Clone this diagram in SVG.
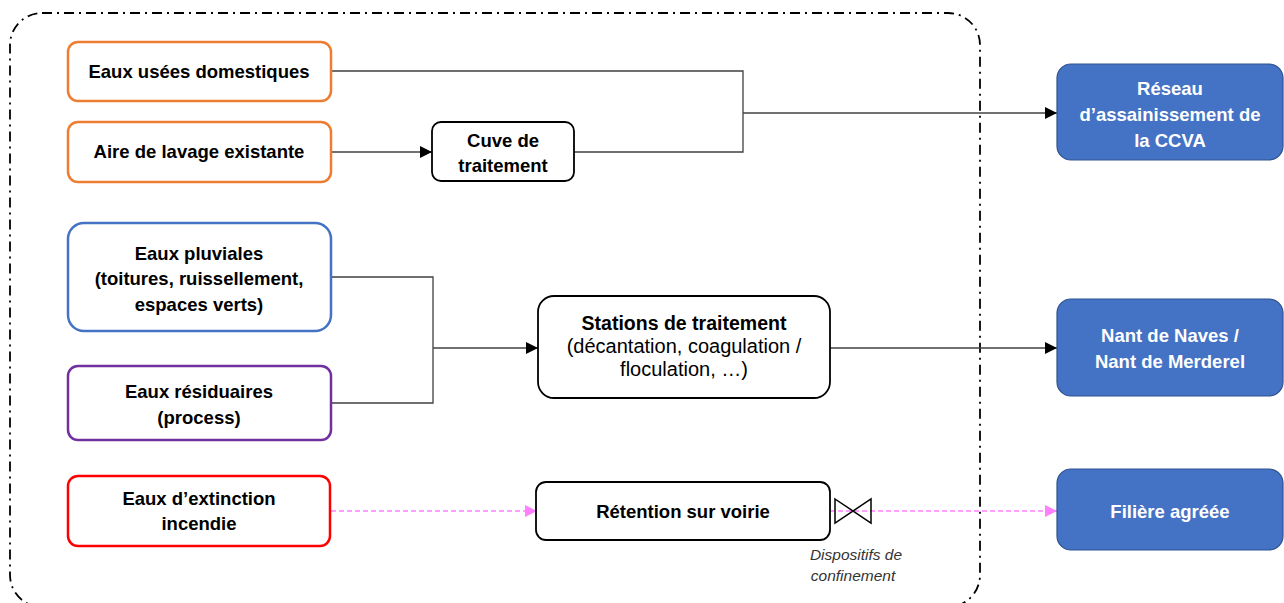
<svg xmlns="http://www.w3.org/2000/svg" width="1284" height="603" viewBox="0 0 1284 603">
  <style>
    .t { font-family: "Liberation Sans", Arial, sans-serif; font-size: 18.5px; font-weight: bold; fill: #000; text-anchor: middle; }
    .r { font-weight: normal; font-size: 20px; }
    .s { font-size: 19.5px; }
    .w { fill: #fff; }
    .it { font-family: "Liberation Sans", Arial, sans-serif; font-size: 15.5px; font-style: italic; fill: #333; text-anchor: middle; }
    .box { fill: #fff; stroke-width: 2.5; }
    .blk { fill: #fff; stroke: #000; stroke-width: 1.8; }
    .out { fill: #4472C4; stroke: #2F528F; stroke-width: 1.2; }
    .ln { fill: none; stroke: #404040; stroke-width: 1.3; }
    .pk { fill: none; stroke: #FF80FF; stroke-width: 1.5; stroke-dasharray: 5 3; }
  </style>
  <defs>
    <marker id="ah" viewBox="0 0 10 10" refX="10" refY="5" markerWidth="13" markerHeight="12" markerUnits="userSpaceOnUse" orient="auto">
      <path d="M0,0 L10,5 L0,10 Z" fill="#000"/>
    </marker>
    <marker id="ahp" viewBox="0 0 10 10" refX="10" refY="5" markerWidth="13" markerHeight="12" markerUnits="userSpaceOnUse" orient="auto">
      <path d="M0,0 L10,5 L0,10 Z" fill="#FF80FF"/>
    </marker>
  </defs>
  <rect width="1284" height="603" fill="#fff"/>

  <!-- site boundary -->
  <rect x="10" y="13" width="970" height="594" rx="32" ry="32" fill="none" stroke="#000" stroke-width="1.8" stroke-dasharray="10 5 2 5"/>

  <!-- connectors -->
  <g id="connectors">
    <path class="ln" d="M331,71 H743 V152 H574"/>
    <path class="ln" d="M743,113 H1057" stroke="#000" marker-end="url(#ah)"/>
    <path class="ln" d="M331,152 H432" marker-end="url(#ah)"/>
    <path class="ln" d="M331,277 H433 V403 H331"/>
    <path class="ln" d="M433,348 H538" stroke="#000" stroke-width="2" marker-end="url(#ah)"/>
    <path class="ln" d="M830,348 H1057" stroke="#000" marker-end="url(#ah)"/>
    <path class="pk" d="M331,511 H537" marker-end="url(#ahp)"/>
    <path class="pk" d="M830,511 H1057" marker-end="url(#ahp)"/>
  </g>

  <g id="eaux-usees">
    <rect class="box" x="68" y="42" width="263" height="59" rx="10" stroke="#ED7D31"/>
    <text class="t" x="199" y="78">Eaux usées domestiques</text>
  </g>
  <g id="aire-lavage">
    <rect class="box" x="68" y="122" width="263" height="60" rx="10" stroke="#ED7D31"/>
    <text class="t" x="199" y="158">Aire de lavage existante</text>
  </g>
  <g id="cuve">
    <rect class="blk" x="432" y="122" width="142" height="59" rx="9"/>
    <text class="t" x="503" y="147">Cuve de</text>
    <text class="t" x="503" y="172">traitement</text>
  </g>
  <g id="pluviales">
    <rect class="box" x="68" y="223" width="263" height="108" rx="16" stroke="#4472C4"/>
    <text class="t" x="199" y="260">Eaux pluviales</text>
    <text class="t" x="199" y="285">(toitures, ruissellement,</text>
    <text class="t" x="199" y="311">espaces verts)</text>
  </g>
  <g id="residuaires">
    <rect class="box" x="68" y="366" width="263" height="74" rx="10" stroke="#7030A0"/>
    <text class="t" x="199" y="398">Eaux résiduaires</text>
    <text class="t" x="199" y="424">(process)</text>
  </g>
  <g id="stations">
    <rect class="blk" x="538" y="296" width="292" height="102" rx="16"/>
    <text class="t s" x="684" y="330">Stations de traitement</text>
    <text class="t r" x="684" y="353">(décantation, coagulation /</text>
    <text class="t r" x="684" y="376">floculation, …)</text>
  </g>
  <g id="extinction">
    <rect class="box" x="68" y="476" width="262" height="70" rx="10" stroke="#FF0000" stroke-width="3"/>
    <text class="t" x="199" y="505">Eaux d’extinction</text>
    <text class="t" x="199" y="530">incendie</text>
  </g>
  <g id="retention">
    <rect class="blk" x="536" y="482" width="294" height="58" rx="10"/>
    <text class="t" x="683" y="518">Rétention sur voirie</text>
  </g>
  <g id="confinement">
    <path d="M835,499 L871,523 L871,499 L835,523 Z" fill="none" stroke="#000" stroke-width="1.5" stroke-linejoin="miter"/>
    <text class="it" x="856" y="560">Dispositifs de</text>
    <text class="it" x="853" y="581">confinement</text>
  </g>
  <g id="reseau">
    <rect class="out" x="1057" y="64" width="226" height="96" rx="14"/>
    <text class="t w" x="1170" y="95">Réseau</text>
    <text class="t w" x="1170" y="121">d’assainissement de</text>
    <text class="t w" x="1170" y="147">la CCVA</text>
  </g>
  <g id="nant">
    <rect class="out" x="1057" y="299" width="226" height="97" rx="14"/>
    <text class="t w" x="1170" y="342">Nant de Naves /</text>
    <text class="t w" x="1170" y="368">Nant de Merderel</text>
  </g>
  <g id="filiere">
    <rect class="out" x="1057" y="469" width="226" height="81" rx="14"/>
    <text class="t w" x="1170" y="518">Filière agréée</text>
  </g>
</svg>
